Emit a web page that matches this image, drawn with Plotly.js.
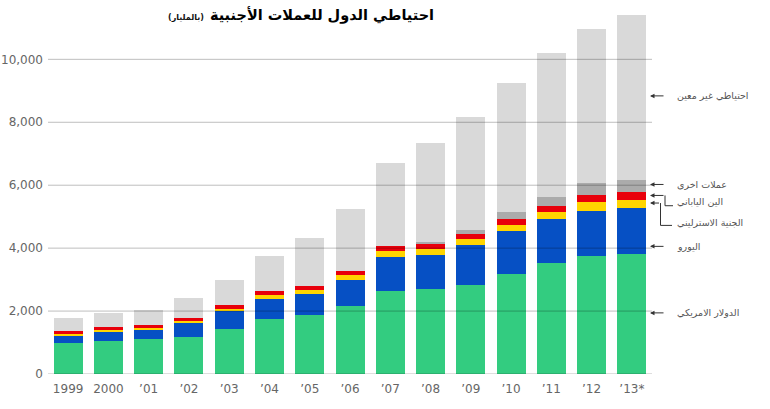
<!DOCTYPE html>
<html>
<head>
<meta charset="utf-8">
<script src="https://cdn.plot.ly/plotly-3.0.1.min.js"></script>
<style>
  html, body { margin: 0; padding: 0; background: #fff; }
  #chart { width: 770px; height: 409px; }
</style>
</head>
<body>
<div id="chart"></div>
<script>
// Foreign-exchange reserves by currency (billions of US dollars)
const years = ["1999", "2000", "\u201901", "\u201902", "\u201903", "\u201904", "\u201905", "\u201906",
               "\u201907", "\u201908", "\u201909", "\u201910", "\u201911", "\u201912", "\u201913*"];
const usd         = [977, 1063, 1117, 1190, 1443, 1752, 1888, 2151, 2627, 2703, 2839, 3188, 3528, 3737, 3813];
const eur         = [235, 276, 285, 422, 550, 635, 657, 847, 1079, 1078, 1269, 1365, 1405, 1450, 1460];
const gbp         = [63, 51, 51, 66, 86, 114, 114, 159, 212, 191, 181, 190, 222, 276, 263];
const jpy         = [96, 117, 108, 106, 105, 127, 127, 127, 137, 159, 159, 190, 200, 232, 264];
const otherCcy    = [0, 0, 0, 0, 0, 0, 0, 0, 0, 50, 136, 213, 286, 371, 371];
const unallocated = [413, 422, 485, 621, 816, 1109, 1535, 1967, 2645, 3154, 3576, 4112, 4568, 4886, 5234];

const yTicks = [0, 2000, 4000, 6000, 8000, 10000];

const seriesNames = ["الدولار الامريكي", "اليورو", "الجنية الاسترليني", "الين الياباني", "عملات اخرى", "احتياطي غير معين"];
const seriesValues = [usd, eur, gbp, jpy, otherCcy, unallocated];
const seriesColors = ["#33cc80", "#0650c4", "#ffd500", "#e8000b", "#ababab", "#d9d9d9"];

const traces = seriesValues.map((vals, i) => ({
  type: "bar",
  x: years,
  y: vals,
  name: seriesNames[i],
  marker: { color: seriesColors[i], line: { width: 0 } },
  hoverinfo: "skip"
}));

// plot-area geometry in pixels
const W = 770, H = 409;
const M = { l: 48, r: 118, t: 9, b: 34.5 };
const plotW = W - M.l - M.r, plotH = H - M.t - M.b;
const px = x => (x - M.l) / plotW;          // pixel x -> paper x
const py = y => (H - M.b - y) / plotH;      // pixel y -> paper y

// horizontal grid lines drawn over the bars
const shapes = yTicks.map(v => ({
  type: "line", xref: "paper", yref: "y", x0: 0, x1: 1, y0: v, y1: v,
  line: { color: "rgba(0,0,0,0.26)", width: 1 }, layer: "above"
}));

// elbow connectors for the two narrow bands
const elbow = (pts) => ({
  type: "path", xref: "paper", yref: "paper", layer: "above",
  path: pts.map((p, i) => (i ? "L" : "M") + px(p[0]) + "," + py(p[1])).join(" "),
  line: { color: "#333", width: 1 }
});
shapes.push(elbow([[665, 195.7], [665, 206], [673, 206]]));
shapes.push(elbow([[660.5, 203.3], [660.5, 225.7], [672, 225.7]]));

const annotations = [];
// arrows: [tipY, tailX]
const arrows = [[96, 665], [184.7, 665], [195.7, 665], [203.3, 660.5], [246.7, 665], [313.3, 665]];
arrows.forEach(a => annotations.push({
  xref: "paper", yref: "paper", x: px(650), y: py(a[0]),
  ax: a[1] - 650, ay: 0, text: "", showarrow: true,
  arrowhead: 2, arrowsize: 0.9, arrowwidth: 1, arrowcolor: "#333", standoff: 0
}));
// series labels on the right
const labelRows = [
  ["احتياطي غير معين", 96], ["عملات اخرى", 184.7], ["الين الياباني", 201.7],
  ["الجنية الاسترليني", 222.7], ["اليورو", 246.7], ["الدولار الامريكي", 313.3]
];
labelRows.forEach(r => annotations.push({
  xref: "paper", yref: "paper", x: px(675), y: py(r[1]),
  xanchor: "left", yanchor: "middle", showarrow: false, text: r[0],
  font: { family: "DejaVu Sans", size: 9.5, color: "#555" }
}));
// small unit note beside the title
annotations.push({
  xref: "paper", yref: "paper", x: px(206), y: py(18),
  xanchor: "right", yanchor: "middle", showarrow: false, text: "(بالمليار)",
  font: { family: "DejaVu Sans", size: 8, color: "#111", weight: "bold" }
});

const layout = {
  width: W, height: H, autosize: false,
  margin: M,
  paper_bgcolor: "#fff", plot_bgcolor: "#fff",
  barmode: "stack", bargap: 0.28,
  showlegend: false,
  title: {
    text: "<b>احتياطي الدول للعملات الأجنبية</b>",
    x: 322 / W, xanchor: "center", y: 1 - 15 / H, yanchor: "middle",
    xref: "container", yref: "container",
    font: { family: "DejaVu Sans", size: 14.5, color: "#000" }
  },
  xaxis: {
    type: "category", range: [-0.5, 14.5],
    showgrid: false, zeroline: false, showline: false, ticks: "",
    tickfont: { family: "DejaVu Sans", size: 12, color: "#666" },
    ticklabelstandoff: 6, fixedrange: true
  },
  yaxis: {
    range: [0, 11600], tickvals: yTicks, tickformat: ",",
    showgrid: false, zeroline: false, showline: false, ticks: "",
    tickfont: { family: "DejaVu Sans", size: 12, color: "#666" },
    ticklabelstandoff: 4, fixedrange: true
  },
  shapes: shapes,
  annotations: annotations
};

Plotly.newPlot("chart", traces, layout, { displayModeBar: false, staticPlot: true });
</script>
</body>
</html>
